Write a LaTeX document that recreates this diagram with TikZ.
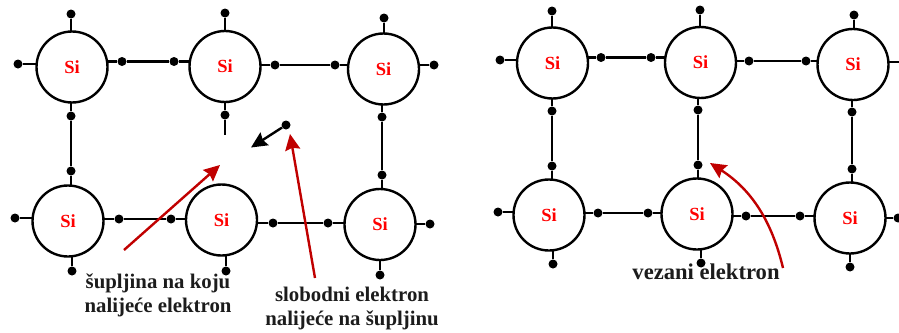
\documentclass[tikz,border=0pt]{standalone}
\usepackage{fontspec}
\setmainfont{Liberation Serif}
\usetikzlibrary{arrows.meta,backgrounds,calc}
\tikzset{
  atom/.style={circle,draw=black,line width=2.4pt,fill=white,minimum size=71pt,inner sep=0pt,
    text=red,font=\fontsize{18.5}{18.5}\selectfont\bfseries},
  el/.style={circle,fill=black,draw=none,minimum size=9pt,inner sep=0pt},
  bond/.style={line width=2.4pt,black},
  redarrow/.style={line width=2.4pt,draw=redarr,-{Stealth[length=16pt,width=15pt,inset=2pt]}},
  lab/.style={align=center,text=labtext,inner sep=0pt,font=\fontsize{20.8}{24.5}\selectfont\bfseries}
}
\definecolor{redarr}{RGB}{192,0,0}
\definecolor{labtext}{RGB}{28,28,28}
\begin{document}
\begin{tikzpicture}[x=1pt,y=-1pt]
\useasboundingbox (0,0) rectangle (899,332);
% left lattice atoms
\node[atom] (a1) at (72,67) {Si};
\node[atom] (a2) at (225,66.5) {Si};
\node[atom] (a3) at (383.5,69) {Si};
\node[atom] (b1) at (68,221) {Si};
\node[atom] (b2) at (221.5,220) {Si};
\node[atom] (b3) at (380,224.5) {Si};
% left lattice electrons
\node[el] (a1t) at (71,14) {};
\node[el] (a1l) at (18,64) {};
\node[el] (a1r) at (122,61.5) {};
\node[el] (a2l) at (174,61.5) {};
\node[el] (a1b) at (71,116) {};
\node[el] (b1t) at (71,171) {};
\node[el] (a2t) at (225,13) {};
\node[el] (a2r) at (275,65) {};
\node[el] (a3l) at (335,65) {};
\node[el] (a2b) at (225,115) {};
\coordinate (a2e) at (225,135);
\node[el] (a3t) at (384,18) {};
\node[el] (a3r) at (434,65) {};
\node[el] (a3b) at (382,117) {};
\node[el] (b3t) at (382,175) {};
\node[el] (b1l) at (15,218) {};
\node[el] (b1r) at (119,219) {};
\node[el] (b2l) at (171,219) {};
\node[el] (b2r) at (273,223) {};
\node[el] (b3l) at (328,223) {};
\node[el] (b3r) at (430,224) {};
\node[el] (b1b) at (72,271) {};
\node[el] (b2b) at (226,271) {};
\node[el] (b3b) at (380,275) {};
\node[el] (free) at (286,125) {};
\coordinate (hole) at (251,147.5);
% right lattice atoms
\node[atom] (c1) at (552.5,63) {Si};
\node[atom] (c2) at (700.5,62.5) {Si};
\node[atom] (c3) at (853,64.5) {Si};
\node[atom] (d1) at (549,215) {Si};
\node[atom] (d2) at (697,214) {Si};
\node[atom] (d3) at (850,218) {Si};
% right lattice electrons
\node[el] (c1t) at (552,11) {};
\node[el] (c1l) at (500,60) {};
\node[el] (c1r) at (601,57.5) {};
\node[el] (c2l) at (651,57.5) {};
\node[el] (c1b) at (552,111) {};
\node[el] (d1t) at (552,166) {};
\node[el] (c2t) at (700,10) {};
\node[el] (c2r) at (749,61) {};
\node[el] (c3l) at (806,61) {};
\node[el] (c2b) at (698,110) {};
\node[el] (d2t) at (698,165) {};
\node[el] (c3t) at (854,15) {};
\coordinate (c3r) at (899,62);
\node[el] (c3b) at (852,112) {};
\node[el] (d3t) at (852,169) {};
\node[el] (d1l) at (498,212) {};
\node[el] (d1r) at (598,213) {};
\node[el] (d2l) at (648,213) {};
\node[el] (d2r) at (746,216) {};
\node[el] (d3l) at (800,216) {};
\node[el] (d3r) at (898,218) {};
\node[el] (d1b) at (553,264) {};
\node[el] (d2b) at (701,263) {};
\node[el] (d3b) at (850,267) {};
% bonds, behind the atoms
\begin{scope}[on background layer]
\draw[bond] (a1t) -- (a1t |- a1.center);
\draw[bond] (a1l) -- (a1l -| a1.center);
\draw[bond] (a1r -| a1.center) -- (a1r) -- (a2l) -- (a2l -| a2.center);
\draw[bond] (a1b |- a1.center) -- (a1b) -- (b1t) -- (b1t |- b1.center);
\draw[bond] (a2t) -- (a2t |- a2.center);
\draw[bond] (a2r -| a2.center) -- (a2r) -- (a3l) -- (a3l -| a3.center);
\draw[bond] (a2b |- a2.center) -- (a2b) -- (a2e);
\draw[bond] (a3t) -- (a3t |- a3.center);
\draw[bond] (a3r) -- (a3r -| a3.center);
\draw[bond] (a3b |- a3.center) -- (a3b) -- (b3t) -- (b3t |- b3.center);
\draw[bond] (b1l) -- (b1l -| b1.center);
\draw[bond] (b1r -| b1.center) -- (b1r) -- (b2l) -- (b2l -| b2.center);
\draw[bond] (b2r -| b2.center) -- (b2r) -- (b3l) -- (b3l -| b3.center);
\draw[bond] (b3r) -- (b3r -| b3.center);
\draw[bond] (b1b) -- (b1b |- b1.center);
\draw[bond] (b2b) -- (b2b |- b2.center);
\draw[bond] (b3b) -- (b3b |- b3.center);
\draw[bond] (c1t) -- (c1t |- c1.center);
\draw[bond] (c1l) -- (c1l -| c1.center);
\draw[bond] (c1r -| c1.center) -- (c1r) -- (c2l) -- (c2l -| c2.center);
\draw[bond] (c1b |- c1.center) -- (c1b) -- (d1t) -- (d1t |- d1.center);
\draw[bond] (c2t) -- (c2t |- c2.center);
\draw[bond] (c2r -| c2.center) -- (c2r) -- (c3l) -- (c3l -| c3.center);
\draw[bond] (c2b |- c2.center) -- (c2b) -- (d2t) -- (d2t |- d2.center);
\draw[bond] (c3t) -- (c3t |- c3.center);
\draw[bond] (c3r) -- (c3r -| c3.center);
\draw[bond] (c3b |- c3.center) -- (c3b) -- (d3t) -- (d3t |- d3.center);
\draw[bond] (d1l) -- (d1l -| d1.center);
\draw[bond] (d1r -| d1.center) -- (d1r) -- (d2l) -- (d2l -| d2.center);
\draw[bond] (d2r -| d2.center) -- (d2r) -- (d3l) -- (d3l -| d3.center);
\draw[bond] (d3r) -- (d3r -| d3.center);
\draw[bond] (d1b) -- (d1b |- d1.center);
\draw[bond] (d2b) -- (d2b |- d2.center);
\draw[bond] (d3b) -- (d3b |- d3.center);
\end{scope}
% labels
\node[lab] (l1) at (158,295.5) {šupljina na koju\\nalijeće elektron};
\node[lab] (l2) at (352,308.5) {slobodni elektron\\nalijeće na šupljinu};
\node[lab,font=\fontsize{22.6}{24.5}\selectfont\bfseries] (l3) at (706,272) {vezani elektron};
% arrows
\coordinate (t1) at (124,250);
\coordinate (h1) at (220,165);
\coordinate (t2) at (315,278);
\coordinate (h2) at (290,134);
\coordinate (t3) at (783,268);
\coordinate (h3) at (710,163);
\draw[line width=2.4pt,black,-{Stealth[length=16pt,width=15pt,inset=2pt]}] (free) -- (hole);
\draw[redarrow] (t1) -- (h1);
\draw[redarrow] (t2) -- (h2);
\draw[redarrow] (t3) .. controls (772,222) and (752,190) .. (h3);
\end{tikzpicture}
\end{document}
